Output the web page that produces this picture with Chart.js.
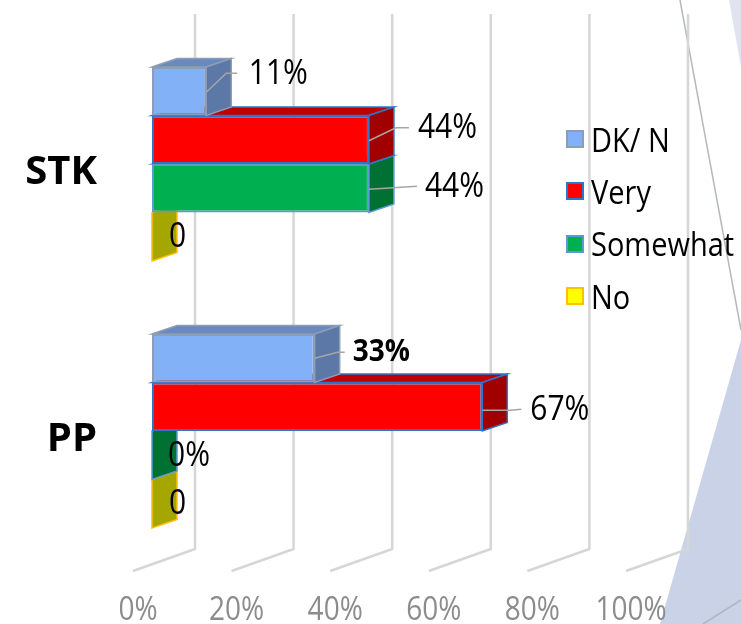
<!DOCTYPE html>
<html>
<head>
<meta charset="utf-8">
<title>STK / PP</title>
<script src="https://cdn.jsdelivr.net/npm/chart.js@4"></script>
<style>
    html, body { margin: 0; padding: 0; background: #fff; }
    .wrap { position: relative; width: 741px; height: 624px; overflow: hidden; font-family: "Open Sans", sans-serif; }
    .wrap svg, .wrap canvas { position: absolute; left: 0; top: 0; }
    #legend-container { position: absolute; left: 566px; top: 113px; }
    .chart-legend-list { list-style: none; margin: 0; padding: 0; }
    .chart-legend-li { display: flex; align-items: center; height: 52.3px; font-size: 29px; color: #000; white-space: nowrap; }
    .chart-legend-box { box-sizing: border-box; width: 18px; height: 18px; border: 2px solid; margin-right: 7px; flex: none; }
    .chart-legend-text { display: inline-block; transform: scaleY(1.12); }
</style>
</head>
<body>
<div class="wrap">
    <svg width="741" height="624">
        <polygon points="729,0 741,0 741,67" fill="#dfe4f0"/>
        <polygon points="741,340 741,624 660,624" fill="#c9d2e6"/>
        <line x1="680" y1="0" x2="741" y2="330" stroke="#b5b8bd" stroke-width="1.5"/>
        <line x1="703" y1="624" x2="741" y2="600" stroke="#aeb6c8" stroke-width="1.5"/>
    </svg>
    <canvas id="chart" width="741" height="624"></canvas>
    <div id="legend-container"></div>
</div>
<script>
const categories = ['STK', 'PP'];
const tickValues = [0, 20, 40, 60, 80, 100];

const dkValues = [11, 33];
const veryValues = [44, 67];
const somewhatValues = [44, 0];
const noValues = [0, 0];

const dkLabels = ['11%', '33%'];
const veryLabels = ['44%', '67%'];
const somewhatLabels = ['44%', '0%'];
const noLabels = ['0', '0'];

// 3d look
const depthX = 25, depthY = -8.5;
const wallX = 43, wallTop = 14, wallBottom = 549, floorX = -62, floorY = 22;

// where the value labels sit, relative to the end of each bar
const labelPlaces = [
    [
        { dx: 42.5, dy: -17, leader: [[0, 1], [20, -18], [31, -18]] },
        { dx: 38, dy: -6, bold: true, leader: [[0, 0], [23, -6], [30, -6]] },
    ],
    [
        { dx: 49, dy: -12, leader: [[0, 1], [27, -12], [40, -12]] },
        { dx: 48, dy: 3.5, leader: [[0, 3.5], [28, 3.5], [39, 2.5]] },
    ],
    [
        { dx: 56, dy: -1.5, leader: [[0, 1], [48, -2]] },
        { dx: 16, dy: 1 },
    ],
    [
        { dx: 17, dy: 0 },
        { dx: 17, dy: 0 },
    ],
];

function face(c, points, fill, stroke) {
    c.beginPath();
    points.forEach((p, i) => {
        if (i == 0) c.moveTo(p[0], p[1]);
        else c.lineTo(p[0], p[1]);
    });
    c.closePath();
    c.fillStyle = fill;
    c.fill();
    c.lineWidth = 1.5;
    c.strokeStyle = stroke;
    c.stroke();
}

// the original picture is stretched upwards, plain fonts come out too flat
function tallText(c, text, x, y, stretch) {
    c.save();
    c.translate(x, y);
    c.scale(1, stretch);
    c.fillText(text, 0, 0);
    c.restore();
}

const wallPlugin = {
    id: 'wall',
    beforeDraw(chart) {
        const c = chart.ctx, x = chart.scales.x;
        c.save();
        c.strokeStyle = '#d6d6d6';
        c.lineWidth = 2.5;
        c.lineJoin = 'round';
        x.ticks.forEach(t => {
            const px = x.getPixelForValue(t.value) + wallX;
            c.beginPath();
            c.moveTo(px, wallTop);
            c.lineTo(px, wallBottom);
            c.lineTo(px + floorX, wallBottom + floorY);
            c.stroke();
        });

        c.fillStyle = '#8c8c8c';
        c.font = '28px "Open Sans"';
        c.textAlign = 'center';
        c.textBaseline = 'middle';
        x.ticks.forEach(t => {
            tallText(c, t.value + '%', x.getPixelForValue(t.value) - 14, 611, 1.15);
        });
        c.restore();
    }
};

const depthPlugin = {
    id: 'depth',
    // datasets are drawn last to first, so the upper bars end up over the lower ones
    beforeDatasetDraw(chart, args) {
        const c = chart.ctx, ds = chart.data.datasets[args.index];
        c.save();
        args.meta.data.forEach(bar => {
            const top = bar.y - bar.height / 2, bottom = bar.y + bar.height / 2;
            const left = chart.scales.x.getPixelForValue(0), right = bar.x;
            if (right > left) {
                face(c, [[left, top], [left + depthX, top + depthY], [right + depthX, top + depthY], [right, top]], ds.topColor, ds.borderColor);
            }
            face(c, [[right, top], [right + depthX, top + depthY], [right + depthX, bottom + depthY], [right, bottom]], ds.sideColor, ds.borderColor);
        });
        c.restore();
    }
};

const valueLabelPlugin = {
    id: 'valueLabels',
    afterDatasetsDraw(chart) {
        const c = chart.ctx;
        c.save();
        chart.data.datasets.forEach((ds, d) => {
            chart.getDatasetMeta(d).data.forEach((bar, i) => {
                const place = labelPlaces[d][i];
                if (place.leader) {
                    c.beginPath();
                    place.leader.forEach((p, n) => {
                        if (n == 0) c.moveTo(bar.x + p[0], bar.y + p[1]);
                        else c.lineTo(bar.x + p[0], bar.y + p[1]);
                    });
                    c.strokeStyle = '#a6a6a6';
                    c.lineWidth = 1.5;
                    c.stroke();
                }
                c.fillStyle = '#000';
                c.font = place.bold ? 'bold 28px "Open Sans"' : '30px "Open Sans"';
                c.textAlign = 'left';
                c.textBaseline = 'middle';
                tallText(c, ds.valueLabels[i], bar.x + place.dx, bar.y + place.dy, place.bold ? 1.08 : 1.17);
            });
        });
        c.restore();
    }
};

const htmlLegendPlugin = {
    id: 'htmlLegend',
    afterUpdate(chart, args, options) {
        const box = document.getElementById(options.containerID);
        const ul = document.createElement('ul');
        ul.classList.add('chart-legend-list');
        box.innerHTML = '';
        box.appendChild(ul);

        chart.options.plugins.legend.labels.generateLabels(chart).forEach(item => {
            const li = document.createElement('li');
            li.classList.add('chart-legend-li');

            const boxSpan = document.createElement('span');
            boxSpan.classList.add('chart-legend-box');
            boxSpan.style.background = item.fillStyle;
            boxSpan.style.borderColor = item.strokeStyle;

            const textContainer = document.createElement('span');
            textContainer.classList.add('chart-legend-text');
            textContainer.appendChild(document.createTextNode(item.text));

            li.appendChild(boxSpan);
            li.appendChild(textContainer);
            ul.appendChild(li);
        });
    }
};

const chart = new Chart(document.getElementById('chart').getContext('2d'), {
    type: 'bar',
    data: {
        labels: categories,
        datasets: [
            { label: 'DK/ N', data: dkValues, valueLabels: dkLabels, backgroundColor: '#82b1f7', borderColor: '#8c9db5', topColor: '#6a8abf', sideColor: '#5b78a6', borderWidth: 2, borderSkipped: false },
            { label: 'Very', data: veryValues, valueLabels: veryLabels, backgroundColor: '#ff0000', borderColor: '#2e75c8', topColor: '#c00000', sideColor: '#a00000', borderWidth: 2, borderSkipped: false },
            { label: 'Somewhat', data: somewhatValues, valueLabels: somewhatLabels, backgroundColor: '#00b050', borderColor: '#5b9bd5', topColor: '#008a3e', sideColor: '#007033', borderWidth: 2, borderSkipped: false },
            { label: 'No', data: noValues, valueLabels: noLabels, backgroundColor: '#ffff00', borderColor: '#ffc000', topColor: '#a6a600', sideColor: '#a6a600', borderWidth: 2, borderSkipped: false },
        ],
    },
    options: {
        indexAxis: 'y',
        responsive: false,
        animation: false,
        categoryPercentage: 0.727,
        barPercentage: 1,
        layout: { padding: { top: 30.5, right: 96 } },
        scales: {
            x: {
                min: 0,
                max: 100,
                afterBuildTicks(scale) {
                    scale.ticks = tickValues.map(v => ({ value: v }));
                },
                afterFit(scale) {
                    scale.height = 59.5;
                    scale.paddingLeft = 0;
                    scale.paddingRight = 0;
                },
                grid: { display: false },
                border: { display: false },
                ticks: { display: false },
            },
            y: {
                afterFit(scale) {
                    scale.width = 152;
                    scale.paddingTop = 0;
                    scale.paddingBottom = 0;
                },
                grid: { display: false },
                border: { display: false },
                ticks: {
                    padding: 47,
                    labelOffset: 9,
                    color: '#000',
                    font: { family: '"Open Sans"', size: 40, weight: 'bold' },
                },
            },
        },
        plugins: {
            legend: { display: false },
            tooltip: { enabled: false },
            htmlLegend: { containerID: 'legend-container' },
        },
    },
    plugins: [wallPlugin, depthPlugin, valueLabelPlugin, htmlLegendPlugin],
});
</script>
</body>
</html>
